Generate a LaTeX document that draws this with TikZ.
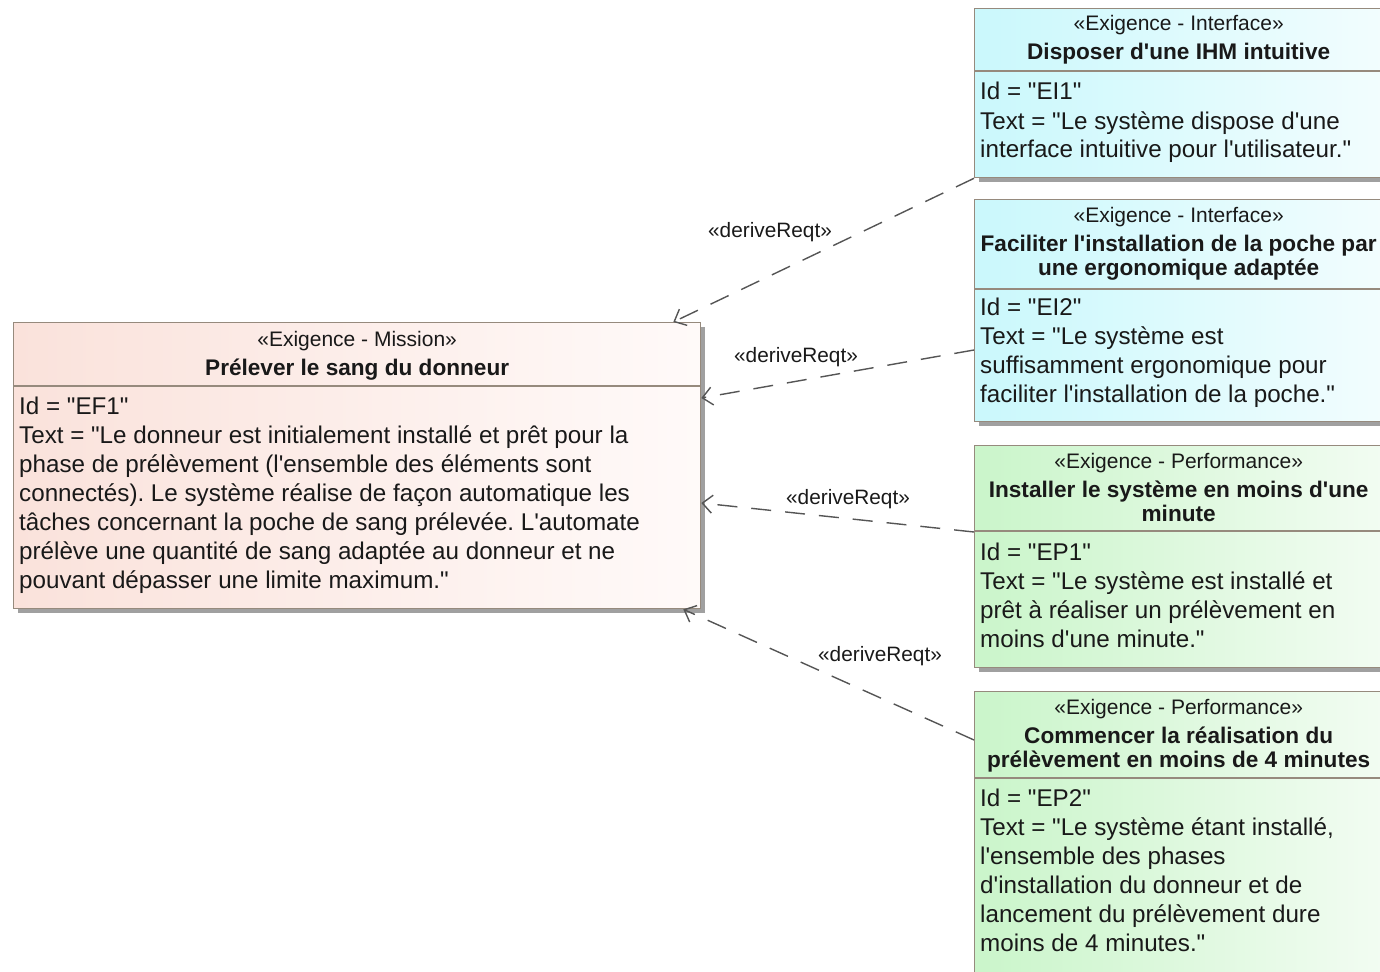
\documentclass[tikz,border=0pt]{standalone}
\usepackage{fontspec}
\newfontfamily\diafont{Liberation Sans}
\usetikzlibrary{arrows.meta,calc,shadows}
\frenchspacing

\definecolor{boxedge}{RGB}{150,138,125}
\definecolor{shadowgrey}{RGB}{160,160,160}
\definecolor{ink}{RGB}{25,25,25}
\definecolor{linkgrey}{RGB}{85,85,85}
\definecolor{misA}{RGB}{250,226,219}
\definecolor{misB}{RGB}{255,250,249}
\definecolor{ifA}{RGB}{202,248,252}
\definecolor{ifB}{RGB}{242,253,254}
\definecolor{pfA}{RGB}{202,245,202}
\definecolor{pfB}{RGB}{242,252,242}

\tikzset{
  reqbox/.style={draw=boxedge, line width=1.3pt, inner sep=0pt, anchor=north west,
    drop shadow={shadow xshift=4pt, shadow yshift=-4pt, fill=shadowgrey, opacity=1}},
  mission/.style={reqbox, left color=misA, right color=misB},
  iface/.style={reqbox, left color=ifA, right color=ifB},
  perf/.style={reqbox, left color=pfA, right color=pfB},
  divider/.style={draw=boxedge, line width=1.3pt},
  stereo/.style={font=\diafont\fontsize{21}{22}\selectfont, text=ink, anchor=base, inner sep=0pt},
  rtitle/.style={font=\diafont\fontsize{22.6}{24}\selectfont\bfseries, text=ink, anchor=base, inner sep=0pt},
  body/.style={font=\diafont\fontsize{24.2}{29}\selectfont, text=ink, anchor=base west, inner sep=0pt},
  derive/.style={draw=linkgrey, line width=1.4pt, dash pattern=on 20pt off 14pt,
    -{Straight Barb[length=10pt,width=18pt]}},
  lbl/.style={font=\diafont\fontsize{20.8}{22}\selectfont, text=ink, inner sep=0pt}
}

\newcommand{\ttl}[1]{\parbox[t]{560pt}{\centering #1}}
\newcommand{\txt}[1]{\parbox[t]{800pt}{#1}}

\begin{document}
\begin{tikzpicture}[x=1pt,y=-1pt]
\useasboundingbox (0,0) rectangle (1380,971);
\clip (0,0) rectangle (1380,971);

% mission requirement
\node[mission, minimum width=687pt, minimum height=286pt] (mis) at (13,322) {};
\draw[divider] ($(mis.north west)+(0,64)$) -- ($(mis.north east)+(0,64)$);
\node[stereo] (misst) at ($(mis.north)+(0,24)$) {«Exigence - Mission»};
\node[rtitle] (mistt) at ($(mis.north)+(0,53)$) {Prélever le sang du donneur};
\node[body] (misbd) at ($(mis.north west)+(6,92)$) {\txt{Id = "EF1"\\
Text = "Le donneur est initialement installé et prêt pour la\\
phase de prélèvement (l'ensemble des éléments sont\\
connectés). Le système réalise de façon automatique les\\
tâches concernant la poche de sang prélevée. L'automate\\
prélève une quantité de sang adaptée au donneur et ne\\
pouvant dépasser une limite maximum."}};

% interface requirement 1
\node[iface, minimum width=408pt, minimum height=169pt] (ei1) at (974,8) {};
\draw[divider] ($(ei1.north west)+(0,63)$) -- ($(ei1.north east)+(0,63)$);
\node[stereo] (ei1st) at ($(ei1.north)+(0,23)$) {«Exigence - Interface»};
\node[rtitle] (ei1tt) at ($(ei1.north)+(0,52)$) {Disposer d'une IHM intuitive};
\node[body] (ei1bd) at ($(ei1.north west)+(6,92)$) {\txt{Id = "EI1"\\
Text = "Le système dispose d'une\\
interface intuitive pour l'utilisateur."}};

% interface requirement 2
\node[iface, minimum width=408pt, minimum height=222pt] (ei2) at (974,199) {};
\draw[divider] ($(ei2.north west)+(0,90)$) -- ($(ei2.north east)+(0,90)$);
\node[stereo] (ei2st) at ($(ei2.north)+(0,23)$) {«Exigence - Interface»};
\node[rtitle] (ei2tt) at ($(ei2.north)+(0,52)$) {\ttl{Faciliter l'installation de la poche par\\une ergonomique adaptée}};
\node[body] (ei2bd) at ($(ei2.north west)+(6,116)$) {\txt{Id = "EI2"\\
Text = "Le système est\\
suffisamment ergonomique pour\\
faciliter l'installation de la poche."}};

% performance requirement 1
\node[perf, minimum width=408pt, minimum height=222pt] (ep1) at (974,445) {};
\draw[divider] ($(ep1.north west)+(0,86)$) -- ($(ep1.north east)+(0,86)$);
\node[stereo] (ep1st) at ($(ep1.north)+(0,23)$) {«Exigence - Performance»};
\node[rtitle] (ep1tt) at ($(ep1.north)+(0,52)$) {\ttl{Installer le système en moins d'une\\minute}};
\node[body] (ep1bd) at ($(ep1.north west)+(6,115)$) {\txt{Id = "EP1"\\
Text = "Le système est installé et\\
prêt à réaliser un prélèvement en\\
moins d'une minute."}};

% performance requirement 2
\node[perf, minimum width=408pt, minimum height=300pt] (ep2) at (974,691) {};
\draw[divider] ($(ep2.north west)+(0,87)$) -- ($(ep2.north east)+(0,87)$);
\node[stereo] (ep2st) at ($(ep2.north)+(0,23)$) {«Exigence - Performance»};
\node[rtitle] (ep2tt) at ($(ep2.north)+(0,52)$) {\ttl{Commencer la réalisation du\\prélèvement en moins de 4 minutes}};
\node[body] (ep2bd) at ($(ep2.north west)+(6,115)$) {\txt{Id = "EP2"\\
Text = "Le système étant installé,\\
l'ensemble des phases\\
d'installation du donneur et de\\
lancement du prélèvement dure\\
moins de 4 minutes."}};

% derivation links
\draw[derive] (ei1.south west) -- ($(mis.north east)+(-28,0)$);
\draw[derive] ($(ei2.north west)+(0,151)$) -- ($(mis.north east)+(0,76)$);
\draw[derive] ($(ep1.north west)+(0,87)$) -- ($(mis.north east)+(0,181)$);
\draw[derive] ($(ep2.north west)+(0,49)$) -- ($(mis.south east)+(-18,0)$);

\node[lbl] (d1) at (770,232) {«deriveReqt»};
\node[lbl] (d2) at (796,357) {«deriveReqt»};
\node[lbl] (d3) at (848,499) {«deriveReqt»};
\node[lbl] (d4) at (880,656) {«deriveReqt»};
\end{tikzpicture}
\end{document}
